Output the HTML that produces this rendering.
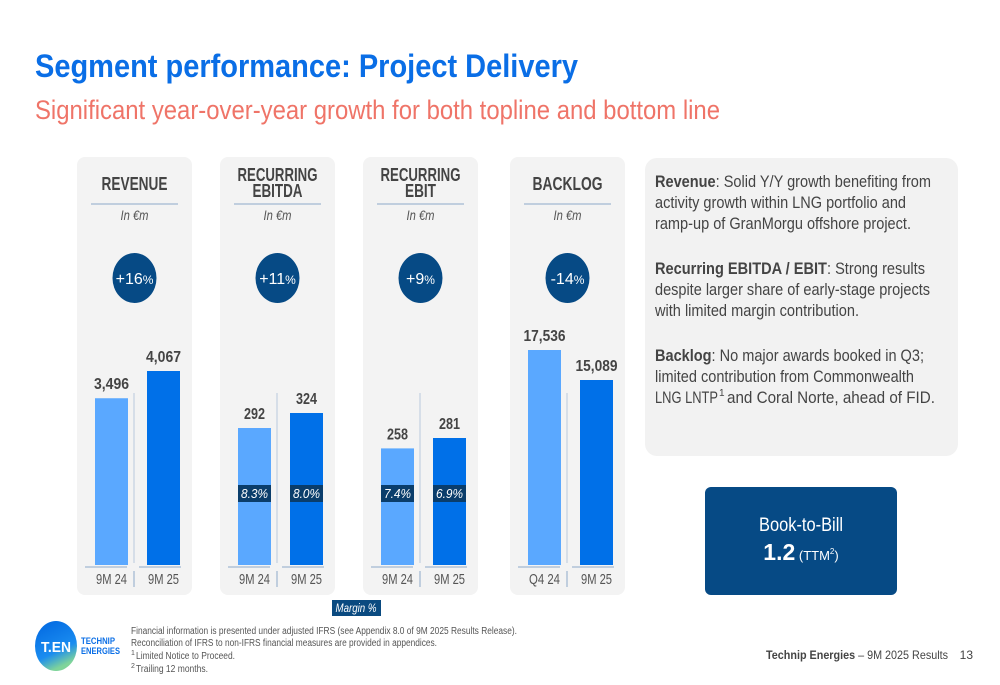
<!DOCTYPE html>
<html><head><meta charset="utf-8"><style>
html,body{margin:0;padding:0;background:#fff;}
svg{display:block;font-family:"Liberation Sans Narrow","Liberation Sans",sans-serif;}
</style></head><body>
<svg id="s" width="1000" height="685" viewBox="0 0 1000 685" xmlns="http://www.w3.org/2000/svg">
<text x="35" y="77" font-size="32" font-weight="bold" fill="#0a6ee6" textLength="543" lengthAdjust="spacingAndGlyphs">Segment performance: Project Delivery</text>
<text x="35" y="119" font-size="27" fill="#ef7468" textLength="685" lengthAdjust="spacingAndGlyphs">Significant year-over-year growth for both topline and bottom line</text>
<g id="charts"></g>
<rect x="645" y="158" width="313" height="298" rx="12" fill="#f2f2f2"/>
<g font-size="17" fill="#444">
<text x="655" y="187" textLength="276" lengthAdjust="spacingAndGlyphs"><tspan font-weight="bold">Revenue</tspan>: Solid Y/Y growth benefiting from</text>
<text x="655" y="208" textLength="251" lengthAdjust="spacingAndGlyphs">activity growth within LNG portfolio and</text>
<text x="655" y="229" textLength="256" lengthAdjust="spacingAndGlyphs">ramp-up of GranMorgu offshore project.</text>
<text x="655" y="274" textLength="270" lengthAdjust="spacingAndGlyphs"><tspan font-weight="bold">Recurring EBITDA / EBIT</tspan>: Strong results</text>
<text x="655" y="295" textLength="275" lengthAdjust="spacingAndGlyphs">despite larger share of early-stage projects</text>
<text x="655" y="316" textLength="204" lengthAdjust="spacingAndGlyphs">with limited margin contribution.</text>
<text x="655" y="361" textLength="269" lengthAdjust="spacingAndGlyphs"><tspan font-weight="bold">Backlog</tspan>: No major awards booked in Q3;</text>
<text x="655" y="382" textLength="259" lengthAdjust="spacingAndGlyphs">limited contribution from Commonwealth</text>
<text x="655" y="403" textLength="63" lengthAdjust="spacingAndGlyphs">LNG LNTP</text>
<text x="719" y="396" font-size="10">1</text>
<text x="727" y="403" textLength="208" lengthAdjust="spacingAndGlyphs">and Coral Norte, ahead of FID.</text>
</g>
<rect x="705" y="487" width="192" height="108" rx="6" fill="#064a85"/>
<text x="801" y="531" font-size="19" fill="#fff" text-anchor="middle" textLength="84" lengthAdjust="spacingAndGlyphs">Book-to-Bill</text>
<text x="801" y="560" fill="#fff" text-anchor="middle"><tspan font-size="23" font-weight="bold">1.2</tspan><tspan font-size="13"> (TTM</tspan><tspan font-size="8" dy="-6">2</tspan><tspan font-size="13" dy="6">)</tspan></text>
<rect x="332" y="600" width="49" height="16" fill="#0a4a80"/>
<text x="356" y="612" font-size="12" font-style="italic" fill="#fff" text-anchor="middle" textLength="41" lengthAdjust="spacingAndGlyphs">Margin %</text>
<g>
<defs><linearGradient id="lg" x1="0" y1="0" x2="0.4" y2="1"><stop offset="0" stop-color="#0066e0"/><stop offset="0.7" stop-color="#1a8cf0"/><stop offset="1" stop-color="#7fd49a"/></linearGradient></defs>
<ellipse cx="56" cy="646" rx="21" ry="25" fill="url(#lg)"/>
<text x="56" y="652" font-size="15" font-weight="bold" fill="#fff" text-anchor="middle" textLength="30" lengthAdjust="spacingAndGlyphs">T.EN</text>
<text x="81" y="644" font-size="9" font-weight="bold" fill="#0a6ee6" textLength="34" lengthAdjust="spacingAndGlyphs">TECHNIP</text>
<text x="81" y="654" font-size="9" font-weight="bold" fill="#0a6ee6" textLength="39" lengthAdjust="spacingAndGlyphs">ENERGIES</text>
</g>
<g font-size="10" fill="#555">
<text x="131" y="634" textLength="386" lengthAdjust="spacingAndGlyphs">Financial information is presented under adjusted IFRS (see Appendix 8.0 of 9M 2025 Results Release).</text>
<text x="131" y="646" textLength="306" lengthAdjust="spacingAndGlyphs">Reconciliation of IFRS to non-IFRS financial measures are provided in appendices.</text>
<text x="131" y="655" font-size="7">1</text>
<text x="136" y="659" textLength="99" lengthAdjust="spacingAndGlyphs">Limited Notice to Proceed.</text>
<text x="131" y="668" font-size="7">2</text>
<text x="136" y="672" textLength="72" lengthAdjust="spacingAndGlyphs">Trailing 12 months.</text>
</g>
<text x="766" y="659" font-size="12" fill="#444" textLength="182" lengthAdjust="spacingAndGlyphs"><tspan font-weight="bold">Technip Energies</tspan> – 9M 2025 Results</text>
<text x="973" y="659" font-size="12" fill="#444" text-anchor="end">13</text>
</svg>
<script>
const panelTitles=[["REVENUE"],["RECURRING","EBITDA"],["RECURRING","EBIT"],["BACKLOG"]];
const growthLabels=["+16","+11","+9","-14"];
const periodA=["9M 24","9M 24","9M 24","Q4 24"];
const periodB=["9M 25","9M 25","9M 25","9M 25"];
const valuesA=[3496,292,258,17536];
const valuesB=[4067,324,281,15089];
const marginsA=[null,"8.3%","7.4%",null];
const marginsB=[null,"8.0%","6.9%",null];
const NS="http://www.w3.org/2000/svg";
const g=document.getElementById("charts");
function el(t,a,txt){const e=document.createElementNS(NS,t);for(const k in a)e.setAttribute(k,a[k]);if(txt!=null)e.textContent=txt;g.appendChild(e);return e;}
const baseY=565;
const maxH=[194,152,127,215];
const titleW={"REVENUE":66,"RECURRING":80,"EBITDA":50,"EBIT":31,"BACKLOG":70};
function fmt(v){return v.toLocaleString("en-US");}
for(let i=0;i<4;i++){
  const px=[77,220,363,510][i], cx=px+57.5;
  const maxV=Math.max(valuesA[i],valuesB[i]);
  const scale=v=>v/maxV*maxH[i];
  let p=el("rect",{x:px,y:157,width:115,height:438,rx:8,fill:"#f3f3f3"});
  
  
  const tl=panelTitles[i];
  tl.forEach((t,j)=>{
    const ty=tl.length==1?190:181+j*16;
    let e=el("text",{x:cx,y:ty,"font-size":18,"font-weight":"bold",fill:"#444","text-anchor":"middle",textLength:titleW[t],lengthAdjust:"spacingAndGlyphs"},t);
    
    
  });
  let ln=el("line",{x1:px+14,x2:px+101,y1:204,y2:204,stroke:"#8ea9c8","stroke-width":1});
  
  
  let u=el("text",{x:cx,y:220,"font-size":14,"font-style":"italic",fill:"#555","text-anchor":"middle",textLength:28,lengthAdjust:"spacingAndGlyphs"},"In €m");
  
  
  let c=el("ellipse",{cx:cx,cy:278,rx:22,ry:25,fill:"#064a85"});
  
  
  let gt=el("text",{x:cx,y:284,"font-size":16,fill:"#fff","text-anchor":"middle"});
  gt.innerHTML=growthLabels[i]+'<tspan font-size="12">%</tspan>';
  
  
  const bars=[[px+18,valuesA[i],"#5aa8ff",marginsA[i],periodA[i]],[px+70,valuesB[i],"#0070e8",marginsB[i],periodB[i]]];
  bars.forEach((b,k)=>{
    const h=scale(b[1]);
    let r=el("rect",{x:b[0],y:baseY-h,width:33,height:h,fill:b[2]});
    
    
    const vs=fmt(b[1]);
    let v=el("text",{x:b[0]+16.5,y:baseY-h-9,"font-size":16,"font-weight":"bold",fill:"#444","text-anchor":"middle",textLength:vs.length*7,lengthAdjust:"spacingAndGlyphs"},vs);
    
    
    if(b[3]){
      let m=el("rect",{x:b[0],y:485,width:33,height:17,fill:"#0a3d6b"});
      
      
      let mt=el("text",{x:b[0]+16.5,y:498,"font-size":13,"font-style":"italic",fill:"#fff","text-anchor":"middle",textLength:27,lengthAdjust:"spacingAndGlyphs"},b[3]);
      
      
    }
    let ax=el("line",{x1:b[0]-10+k*2,x2:b[0]+32+k*2,y1:567,y2:567,stroke:"#8ea9c8","stroke-width":1});
    
    
    let xl=el("text",{x:b[0]+16.5,y:584,"font-size":15,fill:"#555","text-anchor":"middle",textLength:31,lengthAdjust:"spacingAndGlyphs"},b[4]);
    
    
  });
  let sep=el("line",{x1:cx-0.5,x2:cx-0.5,y1:393,y2:563,stroke:"#b8c8dc","stroke-width":1});
  
  
  let sep2=el("line",{x1:cx-0.5,x2:cx-0.5,y1:571,y2:587,stroke:"#8ea9c8","stroke-width":1});
  
  
}
</script>
</body></html>
